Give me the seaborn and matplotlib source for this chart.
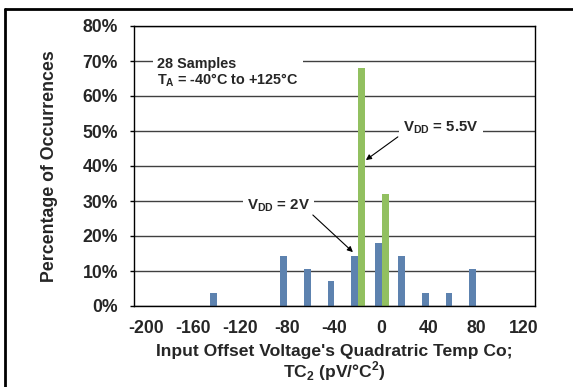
import matplotlib
matplotlib.use("Agg")
import matplotlib.pyplot as plt
from matplotlib.lines import Line2D
from matplotlib.ticker import FixedLocator, PercentFormatter
import pandas as pd
import seaborn as sns

# data
bins = [-200, -180, -160, -140, -120, -100, -80, -60, -40, -20,
        0, 20, 40, 60, 80, 100, 120]
pct_2v = [0, 0, 0, 3.6, 0, 0, 14.3, 10.7, 7.1, 14.3,
          17.9, 14.3, 3.6, 3.6, 10.7, 0, 0]
pct_55v = [0, 0, 0, 0, 0, 0, 0, 0, 0, 67.9,
           32.1, 0, 0, 0, 0, 0, 0]
series = ["VDD = 2V", "VDD = 5.5V"]
colors = ["#4F81BD", "#92D050"]

cats = [str(b) for b in bins]
df = pd.DataFrame({
    "bin": cats * 2,
    "series": [series[0]] * len(cats) + [series[1]] * len(cats),
    "pct": pct_2v + pct_55v,
})

sns.set_style("white")
plt.rcParams['font.family'] = ['Liberation Sans', 'DejaVu Sans']
plt.rcParams['font.weight'] = 'bold'
plt.rcParams['mathtext.fontset'] = 'custom'
plt.rcParams['mathtext.rm'] = 'Liberation Sans:bold'
plt.rcParams['mathtext.bf'] = 'Liberation Sans:bold'

fig = plt.figure(figsize=(5.73, 3.87), dpi=100)
ax = fig.add_axes([134 / 573, 1 - 306 / 387, 401 / 573, 280 / 387])

sns.barplot(data=df, x="bin", y="pct", hue="series", order=cats,
            hue_order=series, palette=colors, width=0.58, linewidth=0,
            legend=False, ax=ax)

ax.set_xlim(-0.5, len(cats) - 0.5)
ax.set_ylim(0, 80)
ax.yaxis.set_major_locator(FixedLocator(range(0, 81, 10)))
ax.yaxis.set_major_formatter(PercentFormatter(decimals=0))
ax.grid(axis="y", color="#404040", lw=1)
ax.set_axisbelow(True)

# labels at every other category centre, tick marks at boundaries
ax.set_xticks(range(0, len(cats), 2))
ax.set_xticklabels(cats[::2])
ax.set_xticks([i - 0.5 for i in range(len(cats) + 1)], minor=True)
ax.tick_params(axis="x", which="major", length=0, labelsize=12.7, pad=10)
ax.tick_params(axis="x", which="minor", length=3, width=1, direction="out", color="black")
ax.tick_params(axis="y", length=3, width=1, direction="out", color="black",
               labelsize=12.7, pad=8.5, left=True)
for lbl in ax.get_xticklabels() + ax.get_yticklabels():
    lbl.set_fontweight("bold")

for sp in ax.spines.values():
    sp.set_color("black")
    sp.set_linewidth(1)

ax.set_xlabel("Input Offset Voltage's Quadratric Temp Co;\nTC$_\\mathregular{2}$ (pV/°C$^\\mathregular{2}$)",
              fontsize=12.6, fontweight="bold", labelpad=5, linespacing=1.05)
ax.set_ylabel("Percentage of Occurrences", fontsize=12.8, fontweight="bold", labelpad=18)

# annotations
ax.text(0.057, 0.89, "28 Samples\nT$_\\mathregular{A}$ = -40°C to +125°C",
        transform=ax.transAxes, fontsize=10.4, fontweight="bold", va="top",
        linespacing=1.1,
        bbox=dict(facecolor="white", edgecolor="none", pad=3))
ax.text(0.671, 0.636, "V$_\\mathregular{DD}$ = 5.5V", transform=ax.transAxes,
        fontsize=10.8, fontweight="bold", va="center",
        bbox=dict(facecolor="white", edgecolor="none", pad=3))
ax.text(0.282, 0.357, "V$_\\mathregular{DD}$ = 2V", transform=ax.transAxes,
        fontsize=10.8, fontweight="bold", va="center",
        bbox=dict(facecolor="white", edgecolor="none", pad=3))
arrow = dict(arrowstyle="-|>", color="black", lw=0.8, mutation_scale=8,
             shrinkA=0, shrinkB=0)
ax.annotate("", xy=(9.33, 41.7), xytext=(0.658, 0.604),
            textcoords="axes fraction", arrowprops=arrow)
ax.annotate("", xy=(8.78, 15.4), xytext=(0.446, 0.325),
            textcoords="axes fraction", arrowprops=arrow)

# outer frame (top and left)
fig.add_artist(Line2D([5 / 573, 1], [1 - 8.5 / 387, 1 - 8.5 / 387],
                      color="black", lw=2, transform=fig.transFigure))
fig.add_artist(Line2D([5 / 573, 5 / 573], [0, 1 - 8.5 / 387],
                      color="black", lw=2, transform=fig.transFigure))

fig.savefig("out.png", dpi=100)
